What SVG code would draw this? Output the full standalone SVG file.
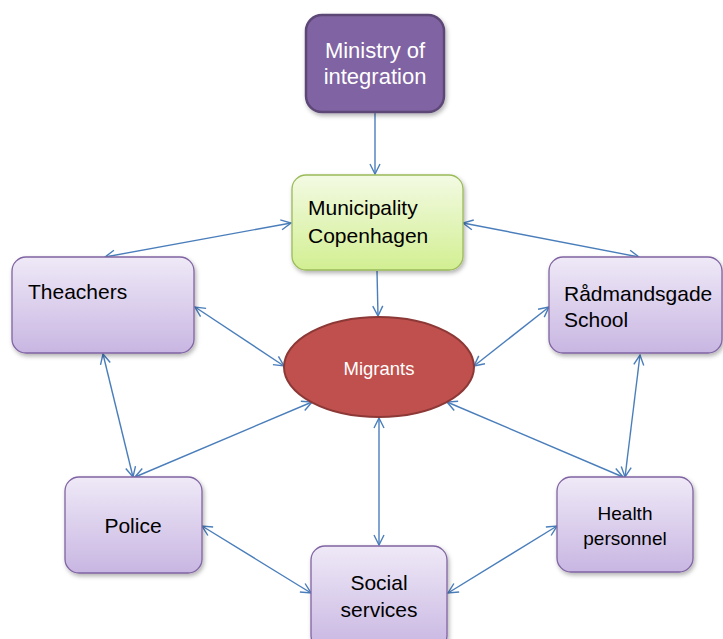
<svg xmlns="http://www.w3.org/2000/svg" width="723" height="639" viewBox="0 0 723 639">
<defs>
<style>
.t{font-family:"Liberation Sans",Arial,sans-serif;}
.dark{fill:#000;font-size:21px;}
.white{fill:#fff;}
.box{fill:url(#gp);stroke:#8064a2;stroke-width:1.3;}
.c{fill:none;stroke:#4a7ebb;stroke-width:1.4;marker-end:url(#ah);}
.b{marker-start:url(#ah);}
</style>
<linearGradient id="gp" x1="0" y1="0" x2="0" y2="1">
<stop offset="0" stop-color="#efe9f7"/>
<stop offset="1" stop-color="#c8b6e2"/>
</linearGradient>
<linearGradient id="gg" x1="0" y1="0" x2="0" y2="1">
<stop offset="0" stop-color="#f3fae3"/>
<stop offset="1" stop-color="#d2ef92"/>
</linearGradient>
<filter id="sh" x="-10%" y="-10%" width="130%" height="130%">
<feDropShadow dx="1.5" dy="2.5" stdDeviation="2" flood-color="#000" flood-opacity="0.3"/>
</filter>
<marker id="ah" viewBox="0 0 12 12" refX="11" refY="6" markerWidth="12" markerHeight="12" markerUnits="userSpaceOnUse" orient="auto-start-reverse">
<path d="M1,1 L11,6 L1,11" fill="none" stroke="#4a7ebb" stroke-width="1.4"/>
</marker>
</defs>
<rect width="723" height="639" fill="#fff"/>
<g id="connectors">
<line class="c" x1="375" y1="112" x2="375" y2="174"/>
<line class="c b" x1="105" y1="257" x2="291" y2="223"/>
<line class="c b" x1="463" y1="223" x2="639" y2="257"/>
<line class="c" x1="377" y1="271" x2="378" y2="316"/>
<line class="c b" x1="195" y1="307" x2="284" y2="366"/>
<line class="c b" x1="549" y1="307" x2="474" y2="366"/>
<line class="c b" x1="103" y1="354" x2="133" y2="477"/>
<line class="c b" x1="640" y1="355" x2="625" y2="477"/>
<line class="c b" x1="135" y1="477" x2="312" y2="402"/>
<line class="c b" x1="623" y1="477" x2="447" y2="402"/>
<line class="c b" x1="379" y1="418" x2="379" y2="545"/>
<line class="c b" x1="202" y1="526" x2="311" y2="593"/>
<line class="c b" x1="557" y1="526" x2="448" y2="593"/>
</g>
<g id="ministry">
<rect x="306" y="15" width="138" height="97" rx="16" fill="#8064a2" stroke="#5c4776" stroke-width="2.5" filter="url(#sh)"/>
<text class="t white" font-size="22" text-anchor="middle"><tspan x="375" y="58">Ministry of</tspan><tspan x="375" y="84">integration</tspan></text>
</g>
<g id="municipality">
<rect x="292" y="175" width="171" height="95" rx="14" fill="url(#gg)" stroke="#9bbb59" stroke-width="1.3" filter="url(#sh)"/>
<text class="t dark" font-size="21.5"><tspan x="308" y="215">Municipality</tspan><tspan x="308" y="243">Copenhagen</tspan></text>
</g>
<g id="theachers">
<rect class="box" x="12" y="257" width="182" height="96" rx="14" filter="url(#sh)"/>
<text class="t dark" x="28" y="299">Theachers</text>
</g>
<g id="radmandsgade">
<rect class="box" x="549" y="257" width="173" height="96" rx="14" filter="url(#sh)"/>
<text class="t dark"><tspan x="564" y="301">Rådmandsgade</tspan><tspan x="564" y="327">School</tspan></text>
</g>
<g id="migrants">
<ellipse cx="379" cy="367" rx="95" ry="50" fill="#c0504d" stroke="#8c3836" stroke-width="2"/>
<text class="t white" font-size="18.5" text-anchor="middle" x="379" y="375">Migrants</text>
</g>
<g id="police">
<rect class="box" x="65" y="477" width="137" height="96" rx="14" filter="url(#sh)"/>
<text class="t dark" text-anchor="middle" x="133" y="533">Police</text>
</g>
<g id="social">
<rect class="box" x="311" y="546" width="136" height="104" rx="14" filter="url(#sh)"/>
<text class="t dark" text-anchor="middle"><tspan x="379" y="590">Social</tspan><tspan x="379" y="617">services</tspan></text>
</g>
<g id="health">
<rect class="box" x="557" y="477" width="136" height="95" rx="14" filter="url(#sh)"/>
<text class="t" fill="#000" font-size="19" text-anchor="middle"><tspan x="625" y="520">Health</tspan><tspan x="625" y="545">personnel</tspan></text>
</g>
</svg>
